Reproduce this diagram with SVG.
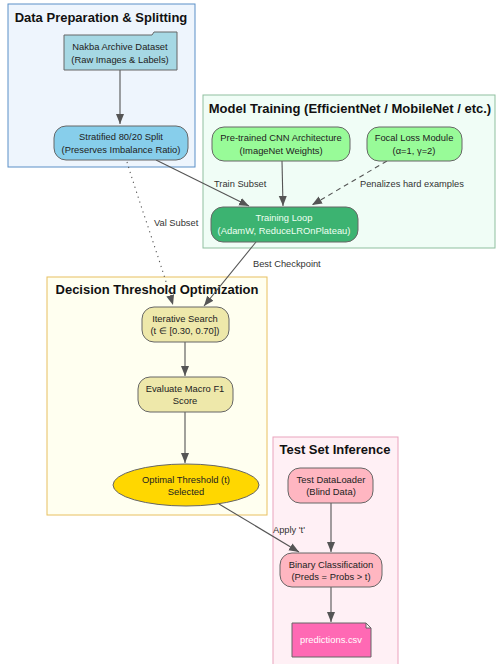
<svg xmlns="http://www.w3.org/2000/svg" width="497" height="664" viewBox="0 0 497 664">
<defs>
<marker id="ah" viewBox="0 0 10 10" refX="10" refY="5" markerWidth="10" markerHeight="10" markerUnits="userSpaceOnUse" orient="auto">
<path d="M0,1 L10,5 L0,9 Z" fill="#555"/>
</marker>
<style>
text{font-family:"Liberation Sans",Arial,sans-serif;fill:#222}
.t{font-size:13px;font-weight:bold;fill:#111;text-anchor:middle}
.n{font-size:9.4px;text-anchor:middle}
.l{font-size:9.3px;fill:#333}
.e{fill:none;stroke:#555;stroke-width:1.1}
.nd{stroke:#666;stroke-width:1}
</style>
</defs>
<g id="cluster-data">
<rect x="8" y="4" width="187" height="163" fill="#eef5fd" stroke="#5b8fc7" stroke-width="1"/>
<text class="t" x="101" y="22">Data Preparation &amp; Splitting</text>
</g>
<g id="cluster-train">
<rect x="203" y="95" width="292" height="153" fill="#f0fdf6" stroke="#8fbf9f" stroke-width="1"/>
<text class="t" x="350" y="113">Model Training (EfficientNet / MobileNet / etc.)</text>
</g>
<g id="cluster-threshold">
<rect x="47" y="277" width="220" height="238" fill="#fffff0" stroke="#e8c060" stroke-width="1"/>
<text class="t" x="157" y="294">Decision Threshold Optimization</text>
</g>
<g id="cluster-test">
<rect x="273" y="437" width="125" height="230" fill="#fff0f5" stroke="#eaa3bd" stroke-width="1"/>
<text class="t" x="335" y="454">Test Set Inference</text>
</g>
<g id="connectors">
<path class="e" d="M120,70 L120,124" marker-end="url(#ah)"/>
<path class="e" d="M156,160 L249,206" marker-end="url(#ah)"/>
<path class="e" d="M127,162 C140,205 160,260 173,305" stroke-dasharray="1.2,4" marker-end="url(#ah)"/>
<path class="e" d="M282,161 L283,206" marker-end="url(#ah)"/>
<path class="e" d="M387,161 L312,205" stroke-dasharray="5,4" marker-end="url(#ah)"/>
<path class="e" d="M256,242 L204,306" marker-end="url(#ah)"/>
<path class="e" d="M185,342 L185,376" marker-end="url(#ah)"/>
<path class="e" d="M185,412 L185,463" marker-end="url(#ah)"/>
<path class="e" d="M219,504 L299,552" marker-end="url(#ah)"/>
<path class="e" d="M331,503 L331,552" marker-end="url(#ah)"/>
<path class="e" d="M331,587 L331,622" marker-end="url(#ah)"/>
<text class="l" x="214" y="187">Train Subset</text>
<text class="l" x="360" y="187">Penalizes hard examples</text>
<text class="l" x="154" y="226">Val Subset</text>
<text class="l" x="253" y="267">Best Checkpoint</text>
<text class="l" x="273" y="533">Apply 't'</text>
</g>
<g id="nakba">
<path class="nd" d="M64,35 L152,35 L154,32 L177,32 L177,70 L64,70 Z" fill="#a6d8e4"/>
<text class="n" x="120" y="50">Nakba Archive Dataset</text>
<text class="n" x="120" y="63">(Raw Images &amp; Labels)</text>
</g>
<g id="split">
<rect class="nd" x="54" y="126" width="134" height="34" rx="12" fill="#87ceeb"/>
<text class="n" x="121" y="140">Stratified 80/20 Split</text>
<text class="n" x="121" y="153">(Preserves Imbalance Ratio)</text>
</g>
<g id="cnn">
<rect class="nd" x="212" y="127" width="138" height="34" rx="12" fill="#98fb98"/>
<text class="n" x="281" y="141">Pre-trained CNN Architecture</text>
<text class="n" x="281" y="154">(ImageNet Weights)</text>
</g>
<g id="focal">
<rect class="nd" x="367" y="127" width="95" height="34" rx="12" fill="#98fb98"/>
<text class="n" x="414" y="141">Focal Loss Module</text>
<text class="n" x="414" y="154">(α=1, γ=2)</text>
</g>
<g id="loop">
<rect class="nd" x="211" y="207" width="147" height="35" rx="12" fill="#3cb371"/>
<text class="n" x="284" y="221" style="fill:#eefff2">Training Loop</text>
<text class="n" x="284" y="234" style="fill:#eefff2">(AdamW, ReduceLROnPlateau)</text>
</g>
<g id="search">
<rect class="nd" x="142" y="307" width="87" height="35" rx="12" fill="#eee8aa"/>
<text class="n" x="185" y="322">Iterative Search</text>
<text class="n" x="185" y="334">(t ∈ [0.30, 0.70])</text>
</g>
<g id="evaluate">
<rect class="nd" x="138" y="377" width="95" height="35" rx="12" fill="#eee8aa"/>
<text class="n" x="185" y="392">Evaluate Macro F1</text>
<text class="n" x="185" y="404">Score</text>
</g>
<g id="optimal">
<ellipse class="nd" cx="186" cy="485" rx="73" ry="21" fill="#ffd700"/>
<text class="n" x="186" y="483">Optimal Threshold (t)</text>
<text class="n" x="186" y="495">Selected</text>
</g>
<g id="testloader">
<rect class="nd" x="288" y="468" width="85" height="35" rx="12" fill="#ffb6c1"/>
<text class="n" x="331" y="483">Test DataLoader</text>
<text class="n" x="331" y="495">(Blind Data)</text>
</g>
<g id="binary">
<rect class="nd" x="280" y="553" width="102" height="34" rx="12" fill="#ffb6c1"/>
<text class="n" x="331" y="568">Binary Classification</text>
<text class="n" x="331" y="580">(Preds = Probs &gt; t)</text>
</g>
<g id="predictions">
<path class="nd" d="M292,623 L366,623 L371,628 L371,657 L292,657 Z M366,623 L366,628 L371,628" fill="#ff69b4"/>
<text class="n" x="331" y="643" style="fill:#fff">predictions.csv</text>
</g>
</svg>
